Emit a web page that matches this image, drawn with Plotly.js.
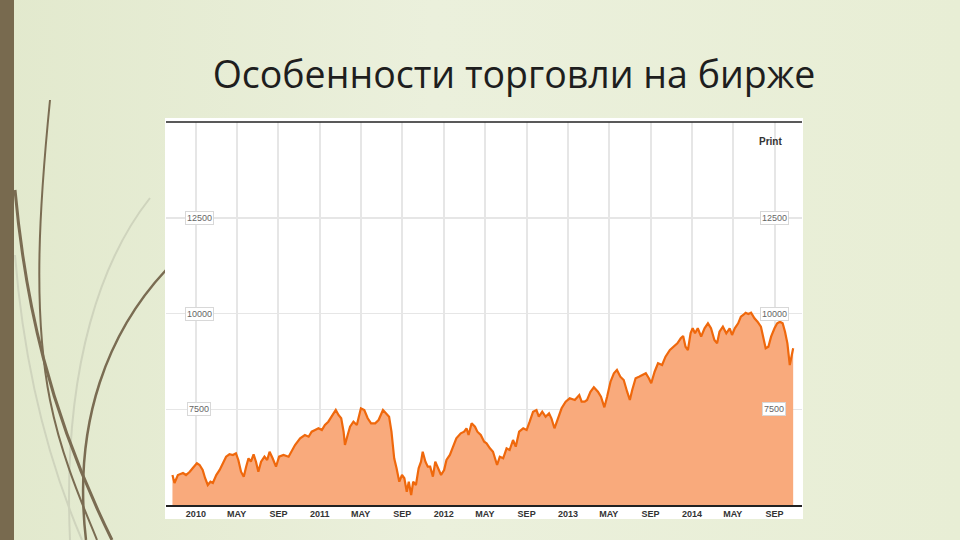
<!DOCTYPE html>
<html><head><meta charset="utf-8">
<script src="https://cdn.plot.ly/plotly-3.0.1.min.js"></script>
<style>
html,body{margin:0;padding:0;}
body{background:linear-gradient(90deg,#e2e9cd 0%,#ebf0dc 45%,#e8eed5 100%);width:960px;height:540px;overflow:hidden;}
#chart{width:960px;height:540px;}
</style>
</head><body><div id="chart"></div>
<script>
const titleText = 'Особенности торговли на бирже';
const dates = [
'2009-10-24','2009-10-30','2009-11-09','2009-11-24','2009-12-03','2009-12-14','2009-12-23','2010-01-04','2010-01-12','2010-01-21',
'2010-01-28','2010-02-05','2010-02-13','2010-02-20','2010-03-02','2010-03-12','2010-03-22','2010-03-31','2010-04-10','2010-04-20',
'2010-04-29','2010-05-06','2010-05-14','2010-05-22','2010-05-29','2010-06-05','2010-06-12','2010-06-20','2010-06-27','2010-07-04',
'2010-07-12','2010-07-22','2010-07-30','2010-08-06','2010-08-15','2010-08-25','2010-09-03','2010-09-16','2010-10-01','2010-10-10',
'2010-10-20','2010-11-04','2010-11-18','2010-11-29','2010-12-08','2010-12-18','2010-12-28','2011-01-07','2011-01-16','2011-01-26',
'2011-02-05','2011-02-17','2011-02-25','2011-03-05','2011-03-12','2011-03-16','2011-03-24','2011-03-31','2011-04-10','2011-04-20',
'2011-05-02','2011-05-12','2011-05-22','2011-06-01','2011-06-13','2011-06-23',
'2011-07-06','2011-07-16','2011-07-24','2011-07-31','2011-08-08','2011-08-15','2011-08-23','2011-08-31','2011-09-07','2011-09-14',
'2011-09-20','2011-09-27','2011-10-03','2011-10-11','2011-10-19','2011-10-26','2011-10-31','2011-11-08','2011-11-15','2011-11-22',
'2011-11-30','2011-12-07','2011-12-14','2011-12-24','2012-01-02','2012-01-09','2012-01-19','2012-01-28','2012-02-07','2012-02-20',
'2012-03-01','2012-03-08','2012-03-14','2012-03-23','2012-04-02','2012-04-09','2012-04-19','2012-04-29','2012-05-06','2012-05-16',
'2012-05-25','2012-06-06','2012-06-14','2012-06-24','2012-07-04','2012-07-13','2012-07-23','2012-07-31','2012-08-10','2012-08-22',
'2012-09-01','2012-09-10','2012-09-20','2012-09-30','2012-10-07','2012-10-17','2012-10-27','2012-11-06','2012-11-13','2012-11-22',
'2012-12-03','2012-12-13','2012-12-25','2013-01-06','2013-01-21','2013-02-03','2013-02-10','2013-02-19','2013-02-26','2013-03-08',
'2013-03-18','2013-03-30','2013-04-08','2013-04-18','2013-04-26','2013-05-06','2013-05-16','2013-05-25','2013-06-04','2013-06-14',
'2013-06-24','2013-07-02','2013-07-09','2013-07-19','2013-07-29','2013-08-08','2013-08-18','2013-08-27','2013-09-03','2013-09-13',
'2013-09-23','2013-10-05','2013-10-15','2013-10-28','2013-11-09','2013-11-19','2013-11-29','2013-12-06','2013-12-13','2013-12-20',
'2013-12-28','2014-01-03','2014-01-10','2014-01-18','2014-01-28','2014-02-07','2014-02-17','2014-02-26','2014-03-08','2014-03-16',
'2014-03-23','2014-04-02','2014-04-12','2014-04-22','2014-04-29','2014-05-07','2014-05-17','2014-05-25','2014-06-01','2014-06-08',
'2014-06-16','2014-06-24','2014-07-04','2014-07-13','2014-07-23','2014-07-30','2014-08-06','2014-08-14','2014-08-22','2014-09-01',
'2014-09-09','2014-09-17','2014-09-25','2014-10-02','2014-10-09','2014-10-16','2014-10-21','2014-10-26'
];
const values = [
5783,5574,5783,5836,5783,5869,5966,6089,6044,5914,
5705,5522,5608,5574,5783,5914,6097,6261,6324,6306,
6350,6175,5869,5739,6000,6219,6131,6324,6131,5869,
6131,6261,6175,6392,6219,6000,6261,6306,6261,6392,
6567,6742,6828,6783,6914,6958,7003,6958,7089,7175,
7306,7480,7350,7264,6914,6567,6828,7044,7175,7089,
7525,7480,7264,7133,7133,7219,
7480,7394,7306,6914,6219,5958,5608,5783,5697,5347,
5608,5261,5608,5522,5958,6131,6392,6131,6000,6000,
5739,6131,6000,5783,5914,6175,6306,6522,6742,6872,
6914,7003,6828,7133,7044,6914,6828,6653,6611,6480,
6392,6044,6261,6219,6480,6436,6697,6522,6914,7003,
6958,7175,7436,7480,7306,7436,7306,7394,7264,7003,
7306,7525,7697,7786,7742,7872,7697,7697,7742,7958,
8073,7958,7828,7551,7828,8219,8439,8525,8350,8264,
7958,7742,8003,8308,8350,8394,8439,8308,8178,8480,
8700,8655,8872,9047,9133,9222,9352,9413,9133,9047,
9491,9614,9483,9614,9394,9614,9744,9614,9308,9222,
9525,9655,9483,9614,9439,9614,9744,9917,9961,10021,
9987,10021,9875,9786,9655,9394,9091,9133,9394,9614,
9744,9786,9744,9525,9222,8655,8872,9091
];
const xTickVals = ['2010-01-01','2010-05-01','2010-09-01','2011-01-01','2011-05-01','2011-09-01','2012-01-01','2012-05-01','2012-09-01','2013-01-01','2013-05-01','2013-09-01','2014-01-01','2014-05-01','2014-09-01'];
const xTickText = ['2010','MAY','SEP','2011','MAY','SEP','2012','MAY','SEP','2013','MAY','SEP','2014','MAY','SEP'];
const yTickVals = [7500, 10000, 12500];
const yTickText = ['7500', '10000', '12500'];

// pixel -> paper helpers for decoration placement
const L = 166, R = 802, T = 122, B = 505;
const px = x => (x - L) / (R - L);
const py = y => (B - y) / (B - T);
function path(cmds) {
  return cmds.map(c => {
    const op = c[0];
    const pts = [];
    for (let i = 1; i < c.length; i += 2) pts.push(px(c[i]).toFixed(5) + ',' + py(c[i + 1]).toFixed(5));
    return op + ' ' + pts.join(' ');
  }).join(' ') ;
}
const dark = '#7a6c52', light = '#cfd4bd';
const shapes = [
  {type:'path', xref:'paper', yref:'paper', layer:'below', line:{color:light, width:2},
   path: path([['M',150,198],['C',105,255,62,360,70,540]])},
  {type:'path', xref:'paper', yref:'paper', layer:'below', line:{color:light, width:2},
   path: path([['M',15,255],['C',25,380,52,470,82,540]])},
  {type:'path', xref:'paper', yref:'paper', layer:'below', line:{color:dark, width:2},
   path: path([['M',50,100],['C',40,200,32,310,50,400],['C',62,460,85,510,97,540]])},
  {type:'path', xref:'paper', yref:'paper', layer:'below', line:{color:dark, width:3},
   path: path([['M',15,190],['C',25,300,48,410,112,540]])},
  {type:'path', xref:'paper', yref:'paper', layer:'below', line:{color:dark, width:2.5},
   path: path([['M',166,270],['C',110,330,72,420,86,540]])},
  {type:'rect', xref:'paper', yref:'paper', layer:'below', x0:px(0), x1:px(14), y0:py(540), y1:py(0),
   line:{width:0}, fillcolor:'#786a4f'},
  {type:'path', xref:'paper', yref:'paper', layer:'below', line:{width:0}, fillcolor:'#a5331b',
   path: path([['M',0,56],['L',107,56,125,76,107,96,0,96],['Z']])},
  {type:'rect', xref:'paper', yref:'paper', layer:'below', x0:px(165), x1:px(803), y0:py(519), y1:py(118),
   line:{width:0}, fillcolor:'#ffffff'},
  {type:'line', xref:'paper', yref:'paper', x0:0, x1:1, y0:1, y1:1, line:{color:'#222', width:1.5}}
];

const annotations = [];
yTickVals.forEach((v, i) => {
  [199, 774].forEach(xp => {
    annotations.push({xref:'paper', yref:'y', x:px(xp), y:v, xanchor:'center', yanchor:'middle',
      text:yTickText[i], showarrow:false,
      font:{family:'Liberation Sans, Arial', size:9, color:'#666'},
      bgcolor:'#ffffff', bordercolor:'#d8d8d8', borderwidth:1, borderpad:1});
  });
});
annotations.push({xref:'paper', yref:'paper', x:px(770), y:py(141), xanchor:'center', yanchor:'middle',
  text:'<b>Print</b>', showarrow:false,
  font:{family:'Liberation Sans, Arial', size:10, color:'#333'}});

const trace = {
  type:'scatter', mode:'lines', x:dates, y:values,
  line:{color:'#ef680c', width:2.2}, fill:'tozeroy', fillcolor:'#f9aa7c',
  hoverinfo:'skip'
};

const layout = {
  width:960, height:540,
  margin:{l:L, r:960-R, t:T, b:540-B, pad:0},
  paper_bgcolor:'rgba(0,0,0,0)', plot_bgcolor:'#ffffff',
  showlegend:false,
  title:{text:titleText, xref:'container', yref:'container', x:514/960, y:1-75/540, xanchor:'center', yanchor:'middle',
    font:{family:'Open Sans, DejaVu Sans', size:37.5, color:'#1e1e1e'}},
  xaxis:{type:'date', range:['2009-10-05','2014-11-21'], tickmode:'array', tickvals:xTickVals, ticktext:xTickText,
    showgrid:true, gridcolor:'#e6e6e6', gridwidth:2, showline:true, linecolor:'#222', linewidth:1.5,
    ticks:'', tickfont:{family:'Liberation Sans, Arial', size:9, color:'#333', weight:'bold'}, zeroline:false, fixedrange:true},
  yaxis:{range:[5000,15000], tickmode:'array', tickvals:yTickVals, showticklabels:false,
    showgrid:true, gridcolor:'#e6e6e6', gridwidth:1.5, zeroline:false, showline:false, ticks:'', fixedrange:true},
  shapes:shapes, annotations:annotations
};
Plotly.newPlot('chart', [trace], layout, {displayModeBar:false, staticPlot:true});
</script>
</body></html>
